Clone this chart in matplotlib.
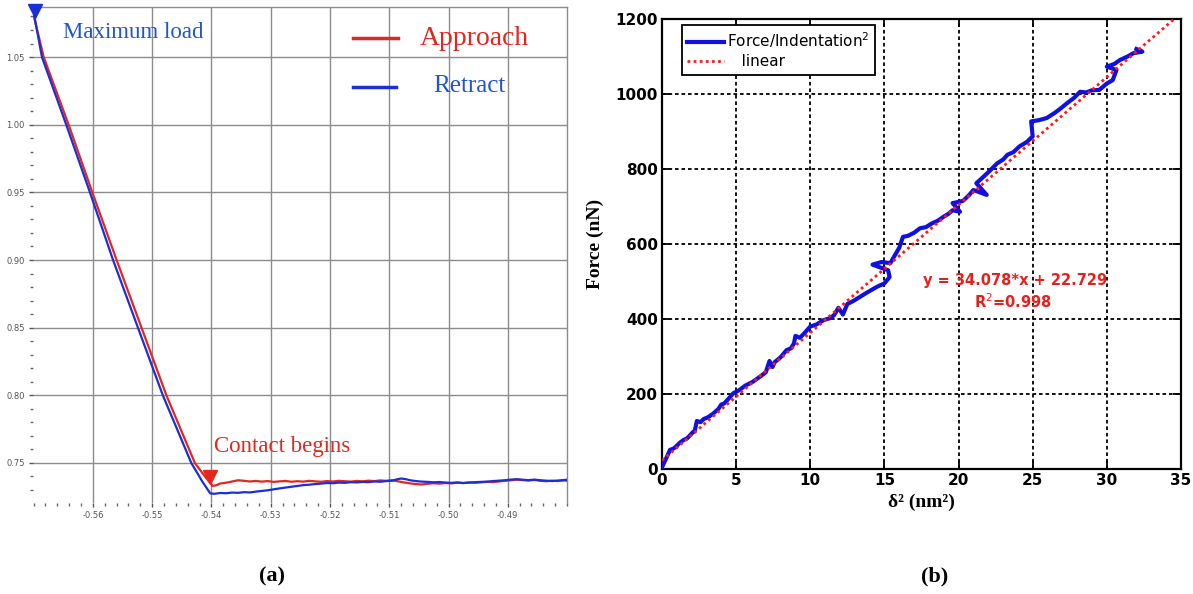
import matplotlib
matplotlib.use("Agg")
import matplotlib.pyplot as plt
from matplotlib.ticker import MultipleLocator, FormatStrFormatter
from matplotlib.lines import Line2D

plt.rcParams['axes.unicode_minus'] = False

# ---------------- Panel (a) data: deflection vs. position ----------------
approach_x = [-0.5700, -0.5683, -0.5641, -0.5601, -0.5560, -0.5518, -0.5476, -0.5428,
              -0.5410, -0.5398, -0.5392, -0.5385, -0.5378, -0.5370, -0.5362, -0.5355,
              -0.5345, -0.5335, -0.5325, -0.5315, -0.5305, -0.5295, -0.5285, -0.5275,
              -0.5265, -0.5255, -0.5245, -0.5235, -0.5225, -0.5215, -0.5205, -0.5195,
              -0.5185, -0.5175, -0.5165, -0.5155, -0.5145, -0.5135, -0.5125, -0.5115,
              -0.5105, -0.5095, -0.5085, -0.5075, -0.5065, -0.5055, -0.5045, -0.5035,
              -0.5025, -0.5015, -0.5005, -0.4995, -0.4985, -0.4975, -0.4965, -0.4955,
              -0.4945, -0.4935, -0.4925, -0.4915, -0.4905, -0.4895, -0.4885, -0.4875,
              -0.4865, -0.4855, -0.4845, -0.4835, -0.4825, -0.4815, -0.4805, -0.4800]
approach_y = [1.081, 1.050, 1.000, 0.950, 0.900, 0.850, 0.800, 0.750,
              0.7395, 0.7330, 0.7335, 0.7348, 0.7352, 0.7358, 0.7366, 0.7372,
              0.7368, 0.7363, 0.7367, 0.7362, 0.7366, 0.7360, 0.7364, 0.7367,
              0.7361, 0.7365, 0.7362, 0.7368, 0.7364, 0.7361, 0.7366, 0.7363,
              0.7368, 0.7365, 0.7362, 0.7367, 0.7364, 0.7369, 0.7366, 0.7371,
              0.7368, 0.7372, 0.7364, 0.7356, 0.7349, 0.7344, 0.7341, 0.7346,
              0.7350, 0.7347, 0.7352, 0.7349, 0.7354, 0.7351, 0.7356, 0.7353,
              0.7357, 0.7360, 0.7358, 0.7363, 0.7368, 0.7372, 0.7376, 0.7373,
              0.7370, 0.7374, 0.7368, 0.7365, 0.7369, 0.7366, 0.7371, 0.7368]

retract_x = [-0.5700, -0.5686, -0.5645, -0.5605, -0.5566, -0.5524, -0.5482, -0.5434,
             -0.5415, -0.5402, -0.5395, -0.5385, -0.5375, -0.5365, -0.5355, -0.5345,
             -0.5335, -0.5325, -0.5315, -0.5305, -0.5295, -0.5285, -0.5275, -0.5265,
             -0.5255, -0.5245, -0.5235, -0.5225, -0.5215, -0.5205, -0.5195, -0.5185,
             -0.5175, -0.5165, -0.5155, -0.5145, -0.5135, -0.5125, -0.5115, -0.5105,
             -0.5095, -0.5088, -0.5080, -0.5072, -0.5065, -0.5055, -0.5045, -0.5035,
             -0.5025, -0.5015, -0.5005, -0.4995, -0.4985, -0.4975, -0.4965, -0.4955,
             -0.4945, -0.4935, -0.4925, -0.4915, -0.4905, -0.4895, -0.4885, -0.4875,
             -0.4865, -0.4855, -0.4845, -0.4835, -0.4825, -0.4815, -0.4805, -0.4800]
retract_y = [1.083, 1.050, 1.000, 0.950, 0.900, 0.850, 0.800, 0.750,
             0.7360, 0.7275, 0.7272, 0.7278, 0.7276, 0.7281, 0.7279, 0.7284,
             0.7282, 0.7288, 0.7293, 0.7298, 0.7305, 0.7312, 0.7318, 0.7324,
             0.7330, 0.7336, 0.7339, 0.7344, 0.7347, 0.7352, 0.7350, 0.7355,
             0.7353, 0.7358, 0.7356, 0.7360, 0.7358, 0.7363, 0.7361, 0.7366,
             0.7369, 0.7378, 0.7385, 0.7380, 0.7372, 0.7366, 0.7362, 0.7360,
             0.7357, 0.7359, 0.7355, 0.7353, 0.7356, 0.7352, 0.7355, 0.7358,
             0.7360, 0.7362, 0.7366, 0.7369, 0.7372, 0.7377, 0.7380, 0.7376,
             0.7373, 0.7377, 0.7372, 0.7369, 0.7366, 0.7370, 0.7374, 0.7376]

max_load_pt = (-0.5697, 1.084)
contact_pt = (-0.5402, 0.7396)

a_xticks = [-0.56, -0.55, -0.54, -0.53, -0.52, -0.51, -0.50, -0.49]
a_yticks = [0.75, 0.80, 0.85, 0.90, 0.95, 1.00, 1.05]

# ---------------- Panel (b) data: force vs. indentation^2 ----------------
force_x = [0.0, 0.3, 0.54, 0.8, 1.0, 1.2, 1.44, 1.7, 2.1, 2.2, 2.35, 2.6, 2.8, 3.1,
           3.46, 3.8, 4.0, 4.2, 4.5, 4.81, 5.2, 5.6, 6.1, 6.6,
           7.0, 7.25, 7.45, 7.6, 8.0, 8.4, 8.7, 8.9, 9.0, 9.3, 9.6, 10.0, 10.4, 10.9,
           11.3, 11.6, 11.9, 12.2, 12.5, 12.9, 13.35, 13.8, 14.5,
           15.0, 15.35, 15.25, 14.2, 14.8, 15.4, 16.0, 16.25, 16.6, 17.0, 17.4, 17.8,
           18.2, 18.6, 19.0, 19.3, 19.6, 20.1, 19.6, 20.3, 20.7, 21.0, 21.9, 21.2,
           21.7, 22.1, 22.6, 23.0, 23.3, 23.7, 24.1, 24.6, 25.0, 24.9, 25.4, 25.95,
           26.5, 26.9, 27.3, 27.8, 28.2, 28.6, 29.0, 29.5, 30.0, 30.4, 30.65, 30.0,
           30.5, 30.9, 31.4, 31.8, 32.4, 32.0]
force_y = [5, 30, 51, 55, 62, 70, 77, 82, 99, 100, 128, 125, 133, 138,
           148, 160, 172, 175, 188, 202, 210, 222, 232, 246,
           258, 288, 272, 285, 298, 317, 322, 335, 355, 350, 362, 380, 385, 397,
           402, 410, 430, 412, 440, 448, 459, 470, 486,
           495, 512, 530, 545, 552, 549, 590, 619, 622, 630, 642, 645,
           655, 662, 673, 680, 690, 686, 709, 715, 730, 744, 731, 762,
           780, 795, 815, 825, 838, 845, 860, 872, 887, 927, 930, 936,
           950, 962, 975, 990, 1006, 1004, 1010, 1011, 1028, 1037, 1064, 1073,
           1080, 1091, 1100, 1109, 1113, 1120]

fit_x = [0.0, 35.0]
fit_y = [22.729, 1215.5]

b_xticks = [0, 5, 10, 15, 20, 25, 30, 35]
b_yticks = [0, 200, 400, 600, 800, 1000, 1200]

# ---------------- Figure ----------------
fig = plt.figure(figsize=(11.93, 5.94), dpi=100)

RED = '#e5261f'
BLUE = '#1c2ed6'
SERIF = ['Liberation Serif', 'DejaVu Serif']

# ---- Panel (a)
axa = fig.add_axes([0.0277, 0.1532, 0.4476, 0.8350])
axa.plot(approach_x, approach_y, color=RED, lw=1.6, zorder=3)
axa.plot(retract_x, retract_y, color=BLUE, lw=1.6, zorder=4)
axa.plot([max_load_pt[0]], [max_load_pt[1]], marker='v', color=BLUE, ms=10, zorder=5,
         clip_on=False)
axa.plot([contact_pt[0]], [contact_pt[1]], marker='v', color=RED, ms=10, zorder=5)

axa.set_xlim(-0.5701, -0.4800)
axa.set_ylim(0.7204, 1.087)
axa.set_xticks(a_xticks)
axa.set_yticks(a_yticks)
axa.xaxis.set_major_formatter(FormatStrFormatter('%.2f'))
axa.yaxis.set_major_formatter(FormatStrFormatter('%.2f'))
axa.xaxis.set_minor_locator(MultipleLocator(0.002))
axa.yaxis.set_minor_locator(MultipleLocator(0.01))
axa.tick_params(axis='both', which='major', labelsize=6, labelcolor='#555555',
                length=3, width=1, color='#555555', pad=3)
axa.tick_params(axis='both', which='minor', length=2, width=1, color='#666666')
axa.grid(True, which='major', color='#8c8c8c', lw=1.0)
axa.set_axisbelow(True)
for s in ['left', 'bottom']:
    axa.spines[s].set_visible(False)
for s in ['top', 'right']:
    axa.spines[s].set_color('#8c8c8c')
    axa.spines[s].set_linewidth(1.0)

axa.text(0.056, 0.948, 'Maximum load', transform=axa.transAxes, color='#1f55cf',
         fontsize=16.5, family=SERIF, va='center', ha='left')
axa.plot([0.599, 0.684], [0.9375, 0.9375], transform=axa.transAxes, color=RED, lw=2.5)
axa.plot([0.599, 0.680], [0.839, 0.839], transform=axa.transAxes, color=BLUE, lw=2.5)
axa.text(0.725, 0.937, 'Approach', transform=axa.transAxes, color=RED,
         fontsize=20, family=SERIF, va='center', ha='left')
axa.text(0.749, 0.841, 'Retract', transform=axa.transAxes, color='#1f55cf',
         fontsize=18, family=SERIF, va='center', ha='left')
axa.text(-0.5396, 0.7618, 'Contact begins', color=RED, fontsize=16.5,
         family=SERIF, va='center', ha='left')

# ---- Panel (b)
axb = fig.add_axes([0.5549, 0.2104, 0.4350, 0.7576])
axb.plot(fit_x, fit_y, color='#ff1a1a', lw=2.0, linestyle=(0, (1, 1.2)), zorder=4)
axb.plot(force_x, force_y, color='#1010e0', lw=3.0, zorder=3)
axb.set_xlim(0, 35)
axb.set_ylim(0, 1200)
axb.set_xticks(b_xticks)
axb.set_yticks(b_yticks)
axb.grid(True, color='black', lw=1.3, linestyle=(0, (2, 1.6)))
axb.set_axisbelow(True)
axb.tick_params(direction='in', length=6, width=1.3, top=True, right=True,
                labelsize=11, pad=3)
for lab in axb.get_xticklabels() + axb.get_yticklabels():
    lab.set_fontweight('bold')
for s in axb.spines.values():
    s.set_linewidth(1.6)

handles = [Line2D([], [], color='#1010e0', lw=3.0),
           Line2D([], [], color='#ff1a1a', lw=2.0, linestyle=(0, (1, 1.2)))]
leg = axb.legend(handles, ['Force/Indentation$^2$', '   linear'],
                 loc='upper left', bbox_to_anchor=(0.0385, 0.987), borderaxespad=0,
                 fancybox=False, framealpha=1, edgecolor='black', fontsize=11,
                 handlelength=2.4, handletextpad=0.2, borderpad=0.35, labelspacing=0.3)
leg.get_frame().set_linewidth(1.3)

axb.text(23.8, 504, 'y = 34.078*x + 22.729', color='#e8201c', fontsize=10.5,
         fontweight='bold', ha='center', va='center', zorder=6)
axb.text(23.7, 445, 'R$^2$=0.998', color='#e8201c', fontsize=10.5,
         fontweight='bold', ha='center', va='center', zorder=6)

axb.set_ylabel('Force (nN)', family=SERIF, fontweight='bold', fontsize=14, labelpad=8)
axb.set_xlabel('\u03b4\u00b2 (nm\u00b2)', family=SERIF, fontweight='bold', fontsize=14,
               labelpad=4)

fig.text(272 / 1193, 1 - 576 / 594, '(a)', family=SERIF, fontweight='bold',
         fontsize=16, ha='center', va='center')
fig.text(935 / 1193, 1 - 576 / 594, '(b)', family=SERIF, fontweight='bold',
         fontsize=16, ha='center', va='center')

fig.savefig('out.png', dpi=100)
